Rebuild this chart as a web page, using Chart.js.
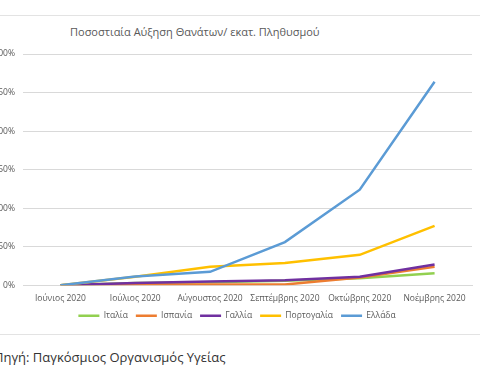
<!DOCTYPE html>
<html lang="el">
<head>
<meta charset="UTF-8">
<title>Ποσοστιαία Αύξηση Θανάτων</title>
<script src="https://cdn.jsdelivr.net/npm/chart.js"></script>
<style>
    body {
        margin: 0;
        width: 480px;
        height: 384px;
        overflow: hidden;
        background: #fff;
        font-family: 'Open Sans', sans-serif;
        position: relative;
    }
    .frame {
        position: absolute;
        left: 0;
        width: 480px;
        height: 0;
        border-top: 1px solid #e3e3e3;
    }
    #title {
        position: absolute;
        left: 70px;
        top: 24px;
        font-size: 11px;
        color: #595959;
        white-space: nowrap;
    }
    #source {
        position: absolute;
        left: -6px;
        top: 348px;
        font-size: 13px;
        color: #333;
        white-space: nowrap;
    }
    .chart-box {
        position: absolute;
        left: -22px;
        top: 16px;
        width: 519px;
        height: 318px;
    }
</style>
</head>
<body>
    <div class="frame" style="top:15px"></div>
    <div class="frame" style="top:334px"></div>
    <div id="title">Ποσοστιαία Αύξηση Θανάτων/ εκατ. Πληθυσμού</div>
    <div class="chart-box"><canvas id="lineChart"></canvas></div>
    <div id="source">Πηγή: Παγκόσμιος Οργανισμός Υγείας</div>

<script>
const months = ['Ιούνιος 2020', 'Ιούλιος 2020', 'Αύγουστος 2020', 'Σεπτέμβρης 2020', 'Οκτώβρης 2020', 'Νοέμβρης 2020'];
const italia = [0, 3, 4, 6, 9, 15.5];
const ispania = [0, 1, 1, 1, 10, 24];
const gallia = [0, 3, 5, 6.5, 11, 27];
const portogalia = [0, 11, 24, 29, 39.5, 77];
const ellada = [0, 11.5, 17.5, 56, 124, 264];
const yTicks = [0, 50, 100, 150, 200, 250, 300];

const seriesNames = ['Ιταλία', 'Ισπανία', 'Γαλλία', 'Πορτογαλία', 'Ελλάδα'];
const seriesData = [italia, ispania, gallia, portogalia, ellada];
const seriesColors = ['#92D050', '#ED7D31', '#7030A0', '#FFC000', '#5B9BD5'];

const datasets = seriesNames.map((name, i) => ({
    label: name,
    data: seriesData[i],
    borderColor: seriesColors[i],
    backgroundColor: seriesColors[i],
    borderWidth: 2.5,
    pointRadius: 0,
    tension: 0,
    order: seriesNames.length - i   // later series drawn on top, like Excel
}));

// the legend in the original sits a bit right of the canvas centre
const legendShift = {
    id: 'legendShift',
    afterLayout(chart) {
        if (chart.legend) {
            chart.legend.left += 12;
            chart.legend.right += 12;
        }
    }
};

const tickFont = { family: 'Open Sans', size: 8.5 };

new Chart(document.getElementById('lineChart'), {
    type: 'line',
    data: { labels: months, datasets: datasets },
    plugins: [legendShift],
    options: {
        responsive: true,
        maintainAspectRatio: false,
        animation: false,
        layout: { padding: { top: 38, right: 25, left: 0, bottom: 4 } },
        plugins: {
            title: { display: false },
            tooltip: { enabled: false },
            legend: {
                position: 'bottom',
                labels: {
                    sort: (a, b) => a.datasetIndex - b.datasetIndex,
                    usePointStyle: true,
                    pointStyle: 'line',
                    pointStyleWidth: 21,
                    boxHeight: 8,
                    padding: 8,
                    color: '#595959',
                    font: tickFont
                }
            }
        },
        scales: {
            x: {
                offset: true,
                grid: { display: false },
                border: { color: '#d9d9d9' },
                ticks: {
                    color: '#595959',
                    font: tickFont,
                    maxRotation: 0,
                    autoSkip: false,
                    padding: 0
                }
            },
            y: {
                min: 0,
                max: 300,
                afterFit: scale => { scale.width = 45; },
                afterBuildTicks: scale => { scale.ticks = yTicks.map(v => ({ value: v })); },
                grid: { color: '#d9d9d9', drawTicks: false },
                border: { display: false },
                ticks: {
                    padding: 8,
                    color: '#595959',
                    font: tickFont,
                    callback: v => v + '%'
                }
            }
        }
    }
});
</script>
</body>
</html>
